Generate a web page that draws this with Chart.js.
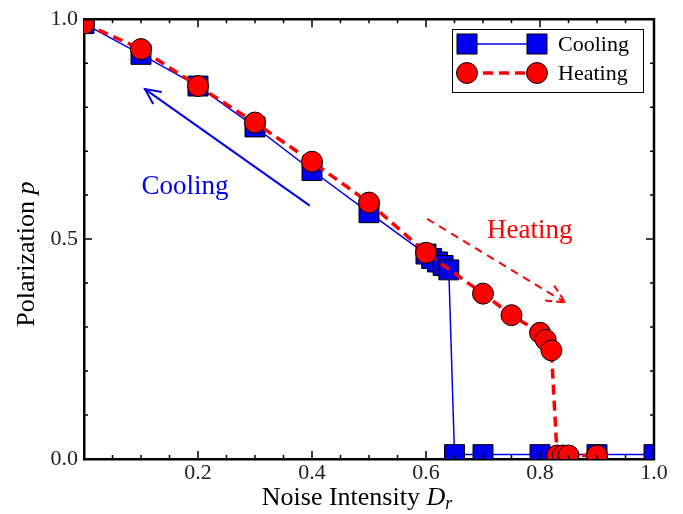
<!DOCTYPE html>
<html>
<head>
<meta charset="utf-8">
<script src="https://cdn.jsdelivr.net/npm/chart.js@4/dist/chart.umd.min.js"></script>
<style>
    html, body { margin: 0; padding: 0; background: #fff; }
    #wrap { width: 683px; height: 514px; }
</style>
</head>
<body>
<div id="wrap"><canvas id="polChart" width="683" height="514"></canvas></div>
<script>
// cooling branch (blue squares)
const coolingX = [0.0, 0.1, 0.2, 0.3, 0.4, 0.5, 0.6, 0.61, 0.62, 0.63, 0.64, 0.65, 0.7, 0.8, 0.9, 1.0]
const coolingY = [0.99, 0.92, 0.848, 0.755, 0.656, 0.56, 0.466, 0.456, 0.448, 0.44, 0.43, 0.01, 0.01, 0.01, 0.01, 0.01]

// heating branch (red circles)
const heatingX = [0.0, 0.1, 0.2, 0.3, 0.4, 0.5, 0.6, 0.7, 0.75, 0.8, 0.81, 0.82, 0.83, 0.84, 0.85, 0.9]
const heatingY = [0.99, 0.932, 0.848, 0.765, 0.676, 0.583, 0.469, 0.376, 0.327, 0.287, 0.271, 0.247, 0.008, 0.008, 0.008, 0.008]

const xTickLabels = ['0.2', '0.4', '0.6', '0.8', '1.0']
const yTickLabels = ['0.0', '0.5', '1.0']

// arrows + their labels, in data units
const coolArrow = { from: [0.396, 0.576], to: [0.107, 0.841] }
const heatArrow = { from: [0.602, 0.546], to: [0.844, 0.356] }
const coolText = { x: 0.177, y: 0.619, label: 'Cooling' }
const heatText = { x: 0.782, y: 0.519, label: 'Heating' }

const BLUE = '#0000ee'
const RED = '#ff0000'
const SERIF = '"Liberation Serif", "DejaVu Serif", serif'

function toPoints(xs, ys) {
    return xs.map((x, i) => ({ x: x, y: ys[i] }))
}

function drawArrowHead(ctx, x0, y0, x1, y1, len) {
    const a = Math.atan2(y1 - y0, x1 - x0)
    ctx.beginPath()
    ctx.moveTo(x1 - len * Math.cos(a - 0.45), y1 - len * Math.sin(a - 0.45))
    ctx.lineTo(x1, y1)
    ctx.lineTo(x1 - len * Math.cos(a + 0.45), y1 - len * Math.sin(a + 0.45))
    ctx.stroke()
}

const extrasPlugin = {
    id: 'extras',
    afterDatasetsDraw(chart) {
        const { ctx, chartArea: area, scales } = chart
        const xs = scales.x
        const ys = scales.y
        ctx.save()

        // top and right frame
        ctx.strokeStyle = '#000'
        ctx.lineWidth = 2.5
        ctx.beginPath()
        ctx.moveTo(area.left - 1, area.top)
        ctx.lineTo(area.right, area.top)
        ctx.lineTo(area.right, area.bottom + 1)
        ctx.stroke()

        // inward ticks on all four sides
        ctx.lineWidth = 1.5
        for (let i = 1; i < 20; i++) {
            const v = i * 0.05
            const px = xs.getPixelForValue(v)
            const len = i % 4 === 0 ? 8 : 4
            ctx.beginPath()
            ctx.moveTo(px, area.bottom)
            ctx.lineTo(px, area.bottom - len)
            ctx.moveTo(px, area.top)
            ctx.lineTo(px, area.top + len)
            ctx.stroke()
        }
        for (let i = 1; i < 10; i++) {
            const py = ys.getPixelForValue(i * 0.1)
            const len = i === 5 ? 8 : 4
            ctx.beginPath()
            ctx.moveTo(area.left, py)
            ctx.lineTo(area.left + len, py)
            ctx.moveTo(area.right, py)
            ctx.lineTo(area.right - len, py)
            ctx.stroke()
        }

        // cooling arrow
        ctx.strokeStyle = BLUE
        ctx.lineWidth = 2
        let p0 = [xs.getPixelForValue(coolArrow.from[0]), ys.getPixelForValue(coolArrow.from[1])]
        let p1 = [xs.getPixelForValue(coolArrow.to[0]), ys.getPixelForValue(coolArrow.to[1])]
        ctx.beginPath()
        ctx.moveTo(p0[0], p0[1])
        ctx.lineTo(p1[0], p1[1])
        ctx.stroke()
        drawArrowHead(ctx, p0[0], p0[1], p1[0], p1[1], 17)

        // heating arrow (dashed)
        ctx.strokeStyle = RED
        ctx.setLineDash([8, 6])
        p0 = [xs.getPixelForValue(heatArrow.from[0]), ys.getPixelForValue(heatArrow.from[1])]
        p1 = [xs.getPixelForValue(heatArrow.to[0]), ys.getPixelForValue(heatArrow.to[1])]
        ctx.beginPath()
        ctx.moveTo(p0[0], p0[1])
        ctx.lineTo(p1[0], p1[1])
        ctx.stroke()
        ctx.setLineDash([7, 4])
        drawArrowHead(ctx, p0[0], p0[1], p1[0], p1[1], 20)
        ctx.setLineDash([])

        // arrow labels
        ctx.font = '27px ' + SERIF
        ctx.textAlign = 'center'
        ctx.textBaseline = 'middle'
        ctx.fillStyle = BLUE
        ctx.fillText(coolText.label, xs.getPixelForValue(coolText.x), ys.getPixelForValue(coolText.y))
        ctx.fillStyle = RED
        ctx.fillText(heatText.label, xs.getPixelForValue(heatText.x), ys.getPixelForValue(heatText.y))

        // legend box
        const lx = 452, ly = 29, lw = 191, lh = 63
        ctx.fillStyle = '#fff'
        ctx.fillRect(lx, ly, lw, lh)
        ctx.strokeStyle = '#000'
        ctx.lineWidth = 1
        ctx.strokeRect(lx + 0.5, ly + 0.5, lw, lh)

        const row1 = ly + 15, row2 = ly + 44
        ctx.strokeStyle = BLUE
        ctx.lineWidth = 1.5
        ctx.beginPath()
        ctx.moveTo(467, row1)
        ctx.lineTo(537, row1)
        ctx.stroke()
        ctx.fillStyle = BLUE
        ctx.strokeStyle = '#000'
        ctx.lineWidth = 1
        ;[467, 537].forEach((cx) => {
            ctx.fillRect(cx - 10, row1 - 10, 20, 20)
            ctx.strokeRect(cx - 10, row1 - 10, 20, 20)
        })

        ctx.strokeStyle = RED
        ctx.lineWidth = 3.5
        ctx.setLineDash([10, 6])
        ctx.beginPath()
        ctx.moveTo(467, row2)
        ctx.lineTo(537, row2)
        ctx.stroke()
        ctx.setLineDash([])
        ctx.fillStyle = RED
        ctx.strokeStyle = '#000'
        ctx.lineWidth = 1
        ;[467, 537].forEach((cx) => {
            ctx.beginPath()
            ctx.arc(cx, row2, 10.5, 0, Math.PI * 2)
            ctx.fill()
            ctx.stroke()
        })

        ctx.fillStyle = '#000'
        ctx.font = '22px ' + SERIF
        ctx.textAlign = 'left'
        ctx.fillText('Cooling', 558, row1 + 1)
        ctx.fillText('Heating', 558, row2 + 1)

        // axis titles
        const TF = 26
        ctx.textBaseline = 'alphabetic'
        const xt1 = 'Noise Intensity '
        ctx.font = TF + 'px ' + SERIF
        const w1 = ctx.measureText(xt1).width
        ctx.font = 'italic ' + TF + 'px ' + SERIF
        const w2 = ctx.measureText('D').width
        ctx.font = 'italic 18px ' + SERIF
        const w3 = ctx.measureText('r').width
        const tx = (area.left + area.right) / 2 - 12 - (w1 + w2 + w3) / 2
        const ty = 505
        ctx.font = TF + 'px ' + SERIF
        ctx.fillText(xt1, tx, ty)
        ctx.font = 'italic ' + TF + 'px ' + SERIF
        ctx.fillText('D', tx + w1, ty)
        ctx.font = 'italic 18px ' + SERIF
        ctx.fillText('r', tx + w1 + w2, ty + 4)

        ctx.save()
        ctx.translate(34, (area.top + area.bottom) / 2 + 15)
        ctx.rotate(-Math.PI / 2)
        ctx.font = TF + 'px ' + SERIF
        const y1 = 'Polarization '
        const yw1 = ctx.measureText(y1).width
        ctx.font = 'italic ' + TF + 'px ' + SERIF
        const yw2 = ctx.measureText('p').width
        ctx.font = TF + 'px ' + SERIF
        ctx.fillText(y1, -(yw1 + yw2) / 2, 0)
        ctx.font = 'italic ' + TF + 'px ' + SERIF
        ctx.fillText('p', -(yw1 + yw2) / 2 + yw1, 0)
        ctx.restore()

        ctx.restore()
    }
}

const chart = new Chart(document.getElementById('polChart'), {
    type: 'line',
    data: {
        datasets: [
            {
                label: 'Cooling',
                data: toPoints(coolingX, coolingY),
                order: 2,
                borderColor: BLUE,
                borderWidth: 1.5,
                backgroundColor: BLUE,
                pointStyle: 'rect',
                pointRadius: 14.1,
                pointBorderColor: '#000',
                pointBorderWidth: 1,
                fill: false,
                clip: 0,
            },
            {
                label: 'Heating',
                data: toPoints(heatingX, heatingY),
                order: 1,
                borderColor: RED,
                borderWidth: 3.5,
                borderDash: [10, 6],
                backgroundColor: RED,
                pointStyle: 'circle',
                pointRadius: 10.5,
                pointBorderColor: '#000',
                pointBorderWidth: 1,
                fill: false,
                clip: 0,
            },
        ],
    },
    options: {
        responsive: false,
        animation: false,
        layout: { padding: { top: 18, right: 29, left: 0, bottom: 0 } },
        plugins: {
            legend: { display: false },
            tooltip: { enabled: false },
        },
        elements: { line: { tension: 0 } },
        scales: {
            x: {
                type: 'linear',
                min: 0,
                max: 1,
                afterFit: (s) => { s.height = 55 },
                afterBuildTicks: (s) => {
                    s.ticks = xTickLabels.map((t) => ({ value: parseFloat(t) }))
                },
                ticks: {
                    callback: (v) => v.toFixed(1),
                    color: '#222',
                    font: { family: SERIF, size: 22 },
                    padding: 1,
                    maxRotation: 0,
                },
                grid: { display: false, drawTicks: false },
                border: { display: true, color: '#000', width: 2.5 },
            },
            y: {
                type: 'linear',
                min: 0,
                max: 1,
                afterFit: (s) => { s.width = 84 },
                afterBuildTicks: (s) => {
                    s.ticks = yTickLabels.map((t) => ({ value: parseFloat(t) }))
                },
                ticks: {
                    callback: (v) => v.toFixed(1),
                    color: '#222',
                    font: { family: SERIF, size: 22 },
                    padding: 6,
                },
                grid: { display: false, drawTicks: false },
                border: { display: true, color: '#000', width: 2.5 },
            },
        },
    },
    plugins: [extrasPlugin],
})
</script>
</body>
</html>
